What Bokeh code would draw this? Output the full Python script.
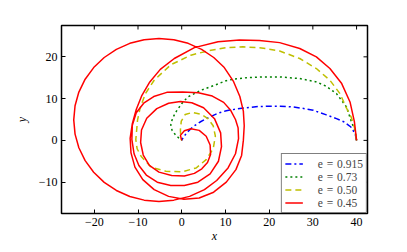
import math
from bokeh.plotting import figure
from bokeh.models import Range1d, Legend, LegendItem, FixedTicker
from bokeh.embed import file_html
from bokeh.resources import INLINE

# e = 0.915 (blue, dash-dot)
blue_x = [40.0, 39.7, 38.7, 37.2, 35.4, 33.1, 30.1, 27.5, 25.5, 22.5, 20.1, 17.5, 14.8, 12.5,
          10.2, 8.3, 6.0, 4.2, 2.6, 1.3, 0.4, 0.0]
blue_y = [0.0, 1.5, 3.2, 4.4, 5.2, 6.1, 7.2, 7.7, 8.0, 8.2, 8.2, 8.1, 7.8, 7.5,
          7.1, 6.5, 5.4, 4.4, 3.3, 2.0, 0.8, 0.0]

# e = 0.73 (green, dotted)
green_x = [40.0, 39.6, 38.8, 37.7, 35.4, 33.0, 30.8, 27.0, 22.4, 18.6, 14.8, 12.1, 10.2, 7.5,
           4.4, 1.4, 0.0, -1.2, -2.1, -2.5, -2.2, -1.4, -0.6, 0.0]
green_y = [0.0, 2.5, 4.5, 8.0, 11.2, 13.0, 14.0, 14.8, 15.2, 15.2, 15.0, 14.7, 14.3, 13.2,
           12.0, 10.4, 8.8, 7.0, 5.3, 3.7, 2.4, 1.3, 0.5, 0.0]

# e = 0.50 (yellow, dashed)
yellow_x = [40.0, 39.6, 38.8, 37.7, 36.2, 33.9, 30.8, 27.0, 22.4, 17.8, 14.0, 10.2, 6.7, 2.1,
            -2.5, -6.3, -8.3, -9.5, -10.1, -10.5, -10.2, -9.3, -7.0, -3.6, 0.2, 3.3, 5.6,
            7.2, 7.7, 7.2, 6.0, 4.5, 2.5, 0.8, -0.1, -0.3, -0.2, 0.0]
yellow_y = [0.0, 2.8, 5.5, 7.7, 11.2, 14.4, 17.2, 19.6, 21.4, 22.2, 22.4, 22.2, 21.6, 20.4,
            18.1, 14.4, 11.2, 7.8, 4.9, 0.2, -2.0, -3.8, -6.4, -7.4, -7.5, -6.6, -4.6,
            -2.0, 1.0, 3.5, 5.2, 6.2, 6.7, 6.2, 4.6, 2.5, 0.8, 0.0]

# e = 0.45 (red, solid)
red_x = [40.0, 39.5, 38.5, 36.6, 33.9, 30.8, 27.0, 22.4, 17.8, 13.2, 8.3, 2.9, -1.7, -4.9,
         -7.3, -9.1, -10.4, -11.3, -11.8, -11.6, -10.7, -8.9, -6.3, -3.0, 0.5, 4.0, 7.3,
         10.2, 12.4, 13.7, 14.1, 14.3, 14.1, 13.3, 11.8, 9.74, 7.33, 4.55, 1.47, -1.81,
         -5.2, -8.59, -11.87, -14.95, -17.73, -20.14, -22.09, -23.53, -24.4, -24.7, -24.4,
         -23.53, -22.09, -20.14, -17.73, -14.95, -11.87, -8.59, -5.2, -1.81, 1.8, 5.2, 8.0,
         10.6, 12.3, 13.0, 12.9, 12.3, 11.2, 9.6, 7.0, 3.8, 0.2, -3.4, -6.4, -8.7, -10.4,
         -11.3, -11.4, -10.9, -9.8, -8.1, -5.6, -2.5, 0.6, 3.7, 6.5, 8.4, 9.1, 8.9, 7.5,
         5.0, 2.3, -0.3, -3.0, -5.7, -8.0, -9.2, -9.4, -8.8, -7.4, -5.2, -2.3, 0.6, 2.9,
         4.6, 5.9, 6.6, 6.5, 5.6, 4.0, 2.1, 0.6, -0.3, 0.0]
red_y = [0.0, 4.5, 9.2, 13.6, 17.2, 20.0, 22.0, 23.4, 23.9, 24.0, 23.6, 22.2, 19.6, 17.0,
         14.0, 10.8, 7.4, 4.0, 0.5, -3.0, -6.4, -9.4, -11.8, -13.4, -14.1, -13.8, -12.4,
         -10.0, -7.0, -3.6, 0.0, 3.5, 7.0, 10.5, 14.2, 17.43, 19.84, 21.79, 23.23, 24.1,
         24.4, 24.1, 23.23, 21.79, 19.84, 17.43, 14.65, 11.57, 8.29, 4.9, 1.51,
         -1.77, -4.85, -7.63, -10.04, -11.99, -13.43, -14.3, -14.6, -14.3, -13.4, -11.8, -9.6,
         -6.6, -3.2, 0.4, 3.0, 5.0, 7.2, 9.1, 10.6, 11.4, 11.6, 11.5, 10.5, 8.9, 6.6,
         3.6, 0.2, -3.2, -6.0, -8.3, -10.0, -10.8, -10.8, -10.0, -8.0, -5.0, -1.5, 1.8, 5.2,
         7.8, 9.0, 9.3, 8.9, 7.6, 5.3, 2.5, -0.5, -3.5, -6.0, -7.6, -8.4, -8.5, -7.9,
         -6.8, -5.3, -3.4, -1.1, 1.0, 2.4, 2.8, 2.3, 1.2, 0.0]

S = "\u2004"
labels = ["e" + S + "=" + S + "0.915", "e" + S + "=" + S + "0.73",
          "e" + S + "=" + S + "0.50", "e" + S + "=" + S + "0.45"]
x_ticks = [-20, -10, 0, 10, 20, 30, 40]
y_ticks = [-10, 0, 10, 20]
x_lo, x_hi = -27.5, 42.5
y_lo, y_hi = -17.5, 27.5

FONT = "Liberation Serif"

p = figure(width=407, height=252, x_range=Range1d(x_lo, x_hi), y_range=Range1d(y_lo, y_hi),
           output_backend="svg", toolbar_location=None,
           min_border_left=61, min_border_right=40, min_border_top=25, min_border_bottom=39)
p.grid.visible = False
p.outline_line_color = "black"
p.outline_line_width = 1.5
p.background_fill_color = "white"
p.border_fill_color = "white"

def fmt(v):
    return ("\u2212" + str(-v)) if v < 0 else str(v)

for ax, ticks in ((p.xaxis[0], x_ticks), (p.yaxis[0], y_ticks)):
    ax.ticker = FixedTicker(ticks=ticks)
    ax.major_label_overrides = {t: fmt(t) for t in ticks}
    ax.major_tick_in = 4
    ax.major_tick_out = 0
    ax.minor_tick_line_color = None
    ax.axis_line_color = None
    ax.major_tick_line_color = "black"
    ax.major_label_text_font = FONT
    ax.major_label_text_font_size = "12px"
    ax.major_label_text_color = "black"
    ax.axis_label_text_font = FONT
    ax.axis_label_text_font_style = "italic"
    ax.axis_label_text_font_size = "12px"
    ax.axis_label_text_color = "black"

p.xaxis[0].axis_label = "x"
p.xaxis[0].major_label_standoff = 4
p.xaxis[0].axis_label_standoff = 0
p.yaxis[0].axis_label = "y"
p.yaxis[0].major_label_standoff = 4
p.yaxis[0].axis_label_standoff = 7

# inward ticks on the top and right edges of the frame
p.ray(x=x_ticks, y=[y_hi] * len(x_ticks), length=4, angle=-math.pi / 2,
      length_units="screen", line_color="black", line_width=1)
p.ray(x=[x_hi] * len(y_ticks), y=y_ticks, length=4, angle=math.pi,
      length_units="screen", line_color="black", line_width=1)

rb = p.line(blue_x, blue_y, line_color="#0000ff", line_width=1.5, line_dash="6 3 2 3")
rg = p.line(green_x, green_y, line_color="#008000", line_width=1.5, line_dash="2 3")
ry = p.line(yellow_x, yellow_y, line_color="#bfbf00", line_width=1.5, line_dash="6 4")
rr = p.line(red_x, red_y, line_color="#ff0000", line_width=1.5)

legend = Legend(items=[LegendItem(label=l, renderers=[r]) for l, r in zip(labels, [rb, rg, ry, rr])],
                location="bottom_right", margin=0, padding=3, spacing=0,
                glyph_width=18, glyph_height=13, label_height=13, label_standoff=15,
                label_text_font=FONT, label_text_font_size="11.5px",
                border_line_color="black", border_line_width=1.5,
                background_fill_color="white", background_fill_alpha=1.0)
p.add_layout(legend)

open("out.html", "w").write(file_html(p, INLINE))
